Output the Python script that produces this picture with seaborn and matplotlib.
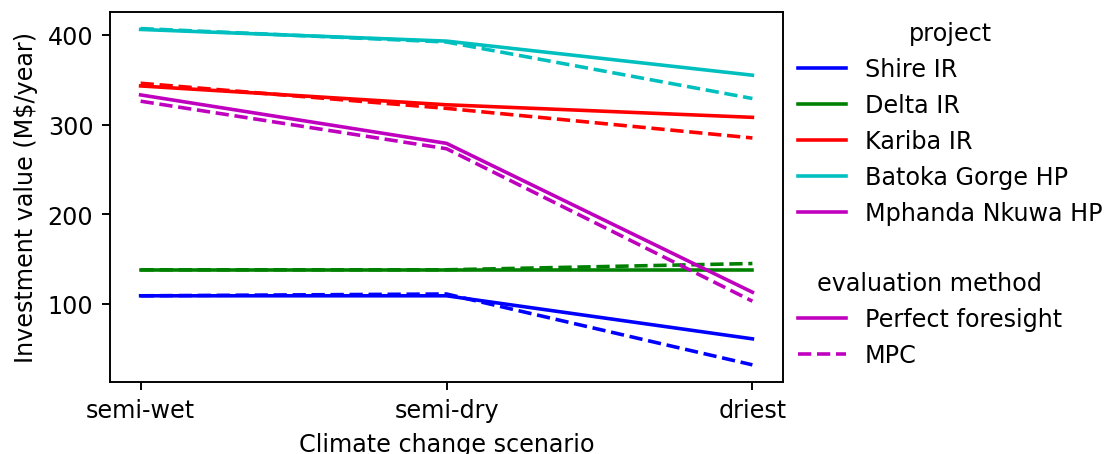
import matplotlib
matplotlib.use('Agg')
import matplotlib.pyplot as plt
from matplotlib.lines import Line2D
import pandas as pd
import seaborn as sns

# data
scenarios = ['semi-wet', 'semi-dry', 'driest']
projects = ['Shire IR', 'Delta IR', 'Kariba IR', 'Batoka Gorge HP', 'Mphanda Nkuwa HP']
methods = ['Perfect foresight', 'MPC']
colors = ['b', 'g', 'r', 'c', 'm']

perfect_foresight = {
    'Shire IR': [109, 109, 61],
    'Delta IR': [138, 138, 138],
    'Kariba IR': [343, 322, 308],
    'Batoka Gorge HP': [406, 393, 355],
    'Mphanda Nkuwa HP': [333, 279, 113],
}
mpc = {
    'Shire IR': [109, 111, 32],
    'Delta IR': [138, 138, 145],
    'Kariba IR': [346, 318, 285],
    'Batoka Gorge HP': [407, 392, 329],
    'Mphanda Nkuwa HP': [326, 273, 103],
}

# long table for seaborn
rows = []
for method, values in [('Perfect foresight', perfect_foresight), ('MPC', mpc)]:
    for p in projects:
        for s, v in zip(scenarios, values[p]):
            rows.append({'scenario': s, 'project': p, 'method': method, 'value': v})
df = pd.DataFrame(rows)

DPI = 172
fig = plt.figure(figsize=(1116 / DPI, 455 / DPI), dpi=DPI)
ax = fig.add_axes([0.0986, 0.159, 0.603, 0.813])

sns.lineplot(data=df, x='scenario', y='value', hue='project', style='method',
             hue_order=projects, style_order=methods,
             palette=dict(zip(projects, colors)),
             dashes={'Perfect foresight': '', 'MPC': (3.7, 1.6)},
             sort=False, legend=False, ax=ax)

ax.set_xlabel('Climate change scenario')
ax.set_ylabel(r'Investment value (M\$/year)')

# two legends, one per grouping
h1 = [Line2D([], [], color=c, lw=1.5) for c in colors]
leg1 = ax.legend(h1, projects, title='project', loc='upper left',
                 bbox_to_anchor=(1.008, 1.0), borderaxespad=0, frameon=False)
ax.add_artist(leg1)
h2 = [Line2D([], [], color='m', lw=1.5),
      Line2D([], [], color='m', lw=1.5, linestyle=(0, (3.7, 1.6)))]
ax.legend(h2, methods, title='evaluation method', loc='upper left',
          bbox_to_anchor=(1.008, 0.324), borderaxespad=0, frameon=False)

fig.savefig('out.png', dpi=DPI)
